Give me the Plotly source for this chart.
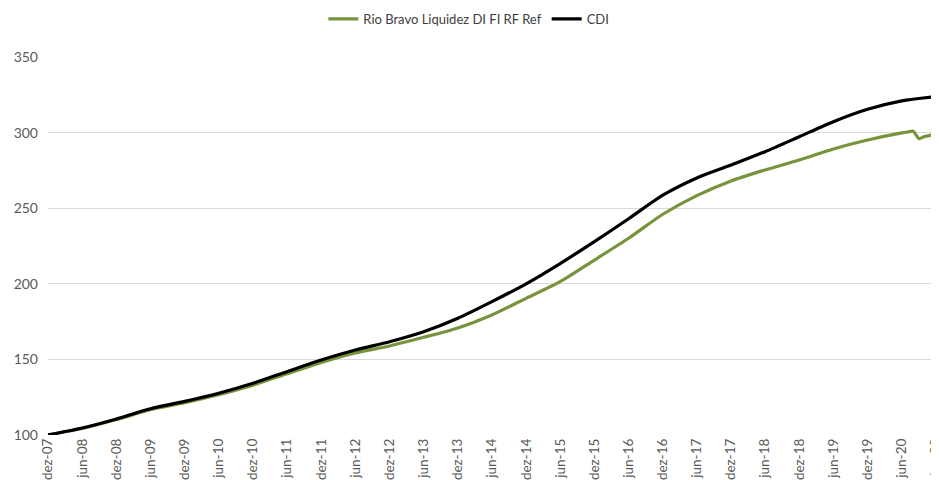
import plotly.graph_objects as go

dates = ["2007-12-01", "2008-06-01", "2008-12-01", "2009-06-01", "2009-12-01",
         "2010-06-01", "2010-12-01", "2011-06-01", "2011-12-01", "2012-06-01",
         "2012-12-01", "2013-06-01", "2013-12-01", "2014-06-01", "2014-12-01",
         "2015-06-01", "2015-12-01", "2016-06-01", "2016-12-01", "2017-06-01",
         "2017-12-01", "2018-06-01", "2018-12-01", "2019-06-01", "2019-12-01",
         "2020-06-01", "2020-12-01"]

cdi = [100.0, 104.6, 110.6, 117.4, 122.2, 127.6, 134.2, 141.9, 149.6, 156.2,
       161.7, 168.3, 177.2, 188.2, 200.0, 213.4, 227.9, 243.0, 258.6, 270.0,
       278.5, 287.4, 297.3, 307.2, 315.4, 321.0, 323.8]

fund_dates = ["2007-12-01", "2008-06-01", "2008-12-01", "2009-06-01", "2009-12-01",
              "2010-06-01", "2010-12-01", "2011-06-01", "2011-12-01", "2012-06-01",
              "2012-12-01", "2013-06-01", "2013-12-01", "2014-06-01", "2014-12-01",
              "2015-06-01", "2015-12-01", "2016-06-01", "2016-12-01", "2017-06-01",
              "2017-12-01", "2018-06-01", "2018-12-01", "2019-06-01", "2019-12-01",
              "2020-06-01", "2020-07-01", "2020-08-01", "2020-09-01", "2020-10-01",
              "2020-11-01", "2020-12-01"]

fund = [100.0, 104.3, 110.2, 116.8, 121.4, 126.7, 133.0, 140.5, 148.0, 154.3,
        158.9, 164.6, 170.8, 179.4, 190.4, 201.4, 215.7, 230.1, 246.0, 258.3,
        268.0, 275.3, 281.9, 289.2, 295.1, 299.8, 300.4, 300.9, 296.0, 297.4,
        298.2, 298.9]

tick_dates = dates
tick_labels = ["dez-07", "jun-08", "dez-08", "jun-09", "dez-09", "jun-10", "dez-10",
               "jun-11", "dez-11", "jun-12", "dez-12", "jun-13", "dez-13", "jun-14",
               "dez-14", "jun-15", "dez-15", "jun-16", "dez-16", "jun-17", "dez-17",
               "jun-18", "dez-18", "jun-19", "dez-19", "jun-20", "dez-20"]

y_ticks = [100, 150, 200, 250, 300, 350]

fig = go.Figure()
fig.add_trace(go.Scatter(
    x=fund_dates, y=fund, mode="lines", name="Rio Bravo Liquidez DI FI RF Ref",
    line=dict(color="#77933C", width=3.2, shape="spline", smoothing=0.7),
))
fig.add_trace(go.Scatter(
    x=dates, y=cdi, mode="lines", name="CDI",
    line=dict(color="#000000", width=3.2, shape="spline", smoothing=0.7),
))

fig.update_layout(
    width=931, height=472,
    margin=dict(l=40, r=3, t=49, b=45, autoexpand=False),
    paper_bgcolor="white", plot_bgcolor="white",
    font=dict(family="Lato, 'Open Sans', sans-serif", color="#595959", size=13),
    showlegend=True,
    legend=dict(
        orientation="h", xref="container", yref="container",
        x=0.495, xanchor="center", y=0.977, yanchor="middle",
        font=dict(size=13, color="#404040"),
        itemwidth=30, tracegroupgap=0,
        bgcolor="rgba(0,0,0,0)",
    ),
    xaxis=dict(
        type="date",
        range=["2007-12-01", "2020-12-01"],
        tickmode="array", tickvals=tick_dates, ticktext=tick_labels,
        tickangle=-90, tickfont=dict(size=13.5, color="#595959"),
        ticklabeloverflow="allow",
        showgrid=False, zeroline=False, showline=False, ticks="",
        automargin=False,
    ),
    yaxis=dict(
        range=[100, 350], tickmode="array", tickvals=y_ticks,
        showgrid=True, gridcolor="#D9D9D9", gridwidth=1,
        zeroline=False, showline=False, ticks="",
        tickfont=dict(size=14, color="#595959"),
        ticklabelstandoff=9,
        automargin=False,
    ),
)

fig.write_html("out.html")
